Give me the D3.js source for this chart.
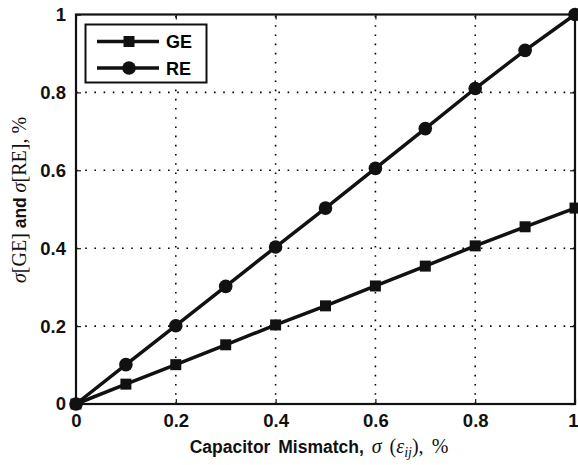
<!DOCTYPE html>
<html>
<head>
<meta charset="utf-8">
<script src="https://cdn.jsdelivr.net/npm/d3@7"></script>
<style>
  body { margin: 0; background: #fff; }
  .tick text { font-family: "Liberation Sans", Arial, sans-serif; font-weight: bold; font-size: 18.5px; }
  .lbl { font-family: "Liberation Sans", Arial, sans-serif; font-weight: bold; font-size: 17.5px; }
  .math { font-family: "Liberation Serif", "DejaVu Serif", serif; font-weight: normal; font-size: 20px; }
</style>
</head>
<body>
<script>
"use strict";
// data
var mismatch = [0, 0.1, 0.2, 0.3, 0.4, 0.5, 0.6, 0.7, 0.8, 0.9, 1.0];
var geValues = [0, 0.051, 0.101, 0.152, 0.203, 0.252, 0.303, 0.354, 0.406, 0.455, 0.503];
var reValues = [0, 0.101, 0.201, 0.302, 0.403, 0.503, 0.605, 0.707, 0.81, 0.908, 1.0];
var tickVals = [0, 0.2, 0.4, 0.6, 0.8, 1];
var seriesNames = ["GE", "RE"];

var width = 578, height = 465;
var plotLeft = 76, plotRight = 575, plotTop = 14.5, plotBottom = 404;

var svg = d3.select("body").append("svg")
  .attr("width", width).attr("height", height);

var x = d3.scaleLinear().domain([0, 1]).range([plotLeft, plotRight]);
var y = d3.scaleLinear().domain([0, 1]).range([plotBottom, plotTop]);

//dotted grid
var grid = svg.append("g").attr("stroke", "#000").attr("stroke-width", 1.6)
  .attr("stroke-dasharray", "1.6,7.6");
grid.selectAll(".gx").data(tickVals.slice(1, -1)).enter().append("line")
  .attr("x1", function(d) { return x(d); }).attr("x2", function(d) { return x(d); })
  .attr("y1", plotBottom).attr("y2", plotTop);
grid.selectAll(".gy").data(tickVals.slice(1, -1)).enter().append("line")
  .attr("y1", function(d) { return y(d); }).attr("y2", function(d) { return y(d); })
  .attr("x1", plotLeft).attr("x2", plotRight);

//axes
var fmt = function(d) { return d === 0 || d === 1 ? d3.format("d")(d) : d3.format(".1f")(d); };
var xAxis = svg.append("g").attr("transform", "translate(0," + plotBottom + ")")
  .call(d3.axisBottom(x).tickValues(tickVals).tickFormat(fmt).tickSizeInner(-5).tickSizeOuter(0).tickPadding(10));
var xAxisTop = svg.append("g").attr("transform", "translate(0," + plotTop + ")")
  .call(d3.axisTop(x).tickValues(tickVals).tickFormat("").tickSizeInner(-5).tickSizeOuter(0));
var yAxis = svg.append("g").attr("transform", "translate(" + plotLeft + ",0)")
  .call(d3.axisLeft(y).tickValues(tickVals).tickFormat(fmt).tickSizeInner(-5).tickSizeOuter(0).tickPadding(10));
var yAxisRight = svg.append("g").attr("transform", "translate(" + plotRight + ",0)")
  .call(d3.axisRight(y).tickValues(tickVals).tickFormat("").tickSizeInner(-5).tickSizeOuter(0));
[xAxis, xAxisTop, yAxis, yAxisRight].forEach(function(a) {
  a.select(".domain").remove();
  a.selectAll("line").attr("stroke", "#111").attr("stroke-width", 1.2);
  a.selectAll("text").attr("fill", "#111");
});
// keep the last x label inside the window
xAxis.selectAll(".tick text").filter(function(d) { return d === 1; })
  .attr("text-anchor", "end").attr("dx", 3);

//frame
svg.append("rect").attr("x", plotLeft).attr("y", plotTop)
  .attr("width", plotRight - plotLeft).attr("height", plotBottom - plotTop)
  .attr("fill", "none").attr("stroke", "#111").attr("stroke-width", 2.2);

//series
var line = d3.line()
  .x(function(d, i) { return x(mismatch[i]); })
  .y(function(d) { return y(d); });

function drawSeries(vals, shape) {
  var g = svg.append("g");
  g.append("path").datum(vals).attr("d", line)
    .attr("fill", "none").attr("stroke", "#111").attr("stroke-width", 3.5);
  if (shape === "square") {
    g.selectAll("rect").data(vals).enter().append("rect")
      .attr("x", function(d, i) { return x(mismatch[i]) - 5.5; })
      .attr("y", function(d) { return y(d) - 5.5; })
      .attr("width", 11).attr("height", 11).attr("fill", "#111");
  } else {
    g.selectAll("circle").data(vals).enter().append("circle")
      .attr("cx", function(d, i) { return x(mismatch[i]); })
      .attr("cy", function(d) { return y(d); })
      .attr("r", 6.8).attr("fill", "#111");
  }
}
drawSeries(geValues, "square");
drawSeries(reValues, "circle");

//legend
var legend = svg.append("g");
legend.append("rect").attr("x", 85.5).attr("y", 24.5).attr("width", 121).attr("height", 58)
  .attr("fill", "#fff").attr("stroke", "#111").attr("stroke-width", 2);
seriesNames.forEach(function(name, i) {
  var ly = 41.5 + i * 26.5;
  legend.append("line").attr("x1", 97).attr("x2", 159).attr("y1", ly).attr("y2", ly)
    .attr("stroke", "#111").attr("stroke-width", 3.5);
  if (i === 0) {
    legend.append("rect").attr("x", 123.5).attr("y", ly - 5.5).attr("width", 11).attr("height", 11).attr("fill", "#111");
  } else {
    legend.append("circle").attr("cx", 129).attr("cy", ly).attr("r", 6.8).attr("fill", "#111");
  }
  legend.append("text").attr("class", "lbl").attr("x", 166).attr("y", ly + 6.5)
    .style("font-size", "18px").text(name);
});

//axis labels
var xl = svg.append("text").attr("class", "lbl").attr("x", 319).attr("y", 453)
  .attr("text-anchor", "middle").attr("fill", "#111").style("word-spacing", "3px");
xl.append("tspan").text("Capacitor Mismatch, ");
xl.append("tspan").attr("class", "math").style("font-style", "italic").text("σ");
xl.append("tspan").attr("class", "math").text(" (");
xl.append("tspan").attr("class", "math").style("font-style", "italic").text("ε");
xl.append("tspan").attr("class", "math").style("font-style", "italic").style("font-size", "14px")
  .attr("dy", 4).text("ij");
xl.append("tspan").attr("class", "math").attr("dy", -4).text("),");
xl.append("tspan").attr("class", "math").text(" %");

var yl = svg.append("text").attr("class", "lbl")
  .attr("transform", "translate(26," + 200 + ") rotate(-90)")
  .attr("text-anchor", "middle").attr("fill", "#111");
yl.append("tspan").attr("class", "math").style("font-style", "italic").text("σ");
yl.append("tspan").attr("class", "math").text("[GE]");
yl.append("tspan").text(" and ");
yl.append("tspan").attr("class", "math").style("font-style", "italic").text("σ");
yl.append("tspan").attr("class", "math").text("[RE],");
yl.append("tspan").attr("class", "math").text(" %");
</script>
</body>
</html>
